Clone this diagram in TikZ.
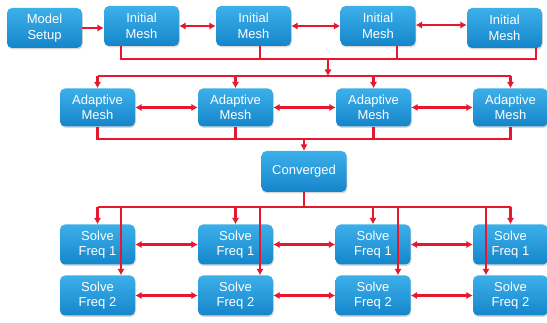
\documentclass[tikz,border=0pt]{standalone}
\usepackage{fontspec}
\setmainfont{Liberation Sans}
\usetikzlibrary{arrows.meta,shadows,calc}
\definecolor{boxtop}{HTML}{3DB0EA}
\definecolor{boxbot}{HTML}{1585CA}
\definecolor{wire}{HTML}{E5182E}
\tikzset{
  box/.style={rounded corners=5pt, minimum width=75pt, minimum height=40pt,
    top color=boxtop, bottom color=boxbot, draw=none, text=white,
    align=center, inner sep=1pt, font=\fontsize{13}{15.5}\selectfont,
    drop shadow={opacity=0.3, shadow xshift=0.8pt, shadow yshift=-1.5pt}},
  line/.style={draw=wire, line width=2.5pt},
  arr/.style={line, -{Latex[length=6.5pt,width=7.5pt]}},
  darr/.style={line, {Latex[length=6.5pt,width=7.5pt]}-{Latex[length=6.5pt,width=7.5pt]}},
}
\begin{document}
\begin{tikzpicture}[x=1pt,y=-1pt]
\useasboundingbox (0,0) rectangle (547,323);

% top row
\node[box] (ms)  at (44.5,28)  {Model\\Setup};
\node[box] (im1) at (141.5,26) {Initial\\Mesh};
\node[box] (im2) at (253.5,26) {Initial\\Mesh};
\node[box] (im3) at (378,26)   {Initial\\Mesh};
\node[box] (im4) at (504.5,28) {Initial\\Mesh};

% adaptive row
\node[box, minimum height=38pt] (ad1) at (97.5,107.5)  {Adaptive\\Mesh};
\node[box, minimum height=38pt] (ad2) at (235.5,107.5) {Adaptive\\Mesh};
\node[box, minimum height=38pt] (ad3) at (373.5,107.5) {Adaptive\\Mesh};
\node[box, minimum height=38pt] (ad4) at (510.5,107.5) {Adaptive\\Mesh};

% convergence check
\node[box, minimum width=85pt, minimum height=41pt] (cv) at (304,171.5) {Converged};

% frequency sweeps
\node[box] (f11) at (97.5,244.5)  {Solve\\Freq 1};
\node[box] (f12) at (235.5,244.5) {Solve\\Freq 1};
\node[box] (f13) at (373,244.5)   {Solve\\Freq 1};
\node[box] (f14) at (510.5,244.5) {Solve\\Freq 1};
\node[box] (f21) at (97.5,295.5)  {Solve\\Freq 2};
\node[box] (f22) at (235.5,295.5) {Solve\\Freq 2};
\node[box] (f23) at (373,295.5)   {Solve\\Freq 2};
\node[box] (f24) at (510.5,295.5) {Solve\\Freq 2};

% bus levels
\coordinate (busA) at (328,59);
\coordinate (busB) at (328,76);
\coordinate (busC) at (304,139);
\coordinate (busD) at (304,207);

% drop points under the initial meshes
\coordinate (d1) at ([xshift=-20.5pt]im1.south);
\coordinate (d2) at ([xshift=6.5pt]im2.south);
\coordinate (d3) at ([xshift=19pt]im3.south);
\coordinate (d4) at ([xshift=31.5pt]im4.south);

% entry points of the second frequency
\coordinate (e1) at ([xshift=23.5pt]f21.north);
\coordinate (e2) at ([xshift=24.5pt]f22.north);
\coordinate (e3) at ([xshift=25pt]f23.north);
\coordinate (e4) at ([xshift=-24.5pt]f24.north);

% top row links
\draw[arr] (ms.east) -- (ms.east -| im1.west);
\draw[darr] (im1.east) -- (im2.west);
\draw[darr] (im2.east) -- (im3.west);
\draw[darr] ([yshift=1pt]im3.east) -- ([yshift=1pt]im3.east -| im4.west);

% initial meshes gather, then fan out to the adaptive meshes
\draw[line] (d1) |- (d4 |- busA) -- (d4);
\draw[line] (d2) -- (d2 |- busA);
\draw[line] (d3) -- (d3 |- busA);
\draw[arr] (busA) -- (busB);
\draw[line] (ad1.north |- busB) -- (ad4.north |- busB);
\foreach \n in {ad1,ad2,ad3,ad4}
  \draw[arr] (\n.north |- busB) -- (\n.north);

\draw[darr] (ad1.east) -- (ad2.west);
\draw[darr] (ad2.east) -- (ad3.west);
\draw[darr] (ad3.east) -- (ad4.west);

% adaptive meshes gather into the convergence check
\draw[line] (ad1.south) |- (ad4.south |- busC) -- (ad4.south);
\draw[line] (ad2.south) -- (ad2.south |- busC);
\draw[line] (ad3.south) -- (ad3.south |- busC);
\draw[arr] (busC) -- (cv.north);

% converged result fans out to the sweeps
\draw[line] (cv.south) -- (busD);
\draw[line] (f11.north |- busD) -- (f14.north |- busD);
\foreach \n in {f11,f12,f13,f14}
  \draw[arr] (\n.north |- busD) -- (\n.north);
\foreach \n in {e1,e2,e3,e4}
  \draw[arr] (\n |- busD) -- (\n);

\draw[darr] (f11.east) -- (f12.west);
\draw[darr] (f12.east) -- (f13.west);
\draw[darr] (f13.east) -- (f14.west);
\draw[darr] (f21.east) -- (f22.west);
\draw[darr] (f22.east) -- (f23.west);
\draw[darr] (f23.east) -- (f24.west);
\end{tikzpicture}
\end{document}
